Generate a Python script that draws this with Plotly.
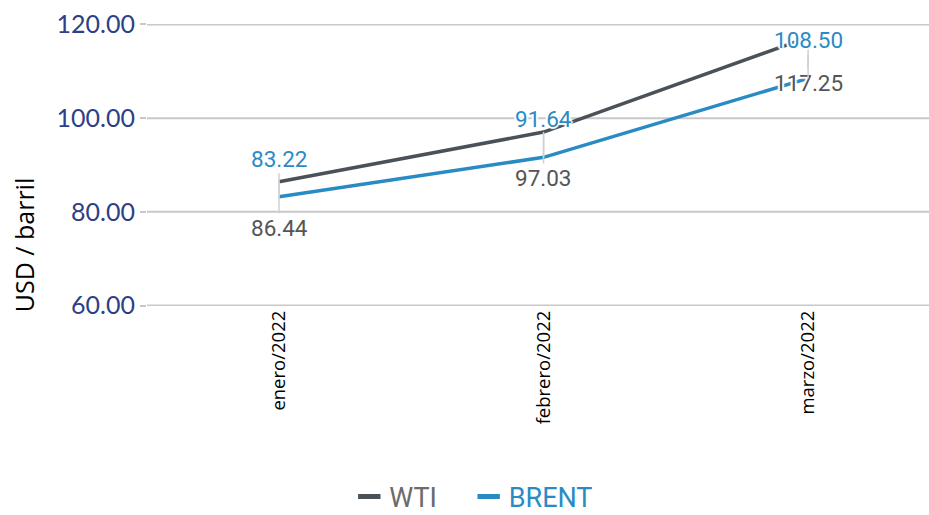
import plotly.graph_objects as go

categories = ["enero/2022", "febrero/2022", "marzo/2022"]
wti = [86.44, 97.03, 117.25]
brent = [83.22, 91.64, 108.50]
y_ticks = [60, 80, 100, 120]

WTI_COLOR = "#4a5159"
BRENT_COLOR = "#2a8bc4"
GRID = "#c8c8c8"
halo = ("white 1px 1px 1px, white -1px -1px 1px, white 1px -1px 1px, white -1px 1px 1px, "
        "white 2px 0px 1px, white -2px 0px 1px, white 0px 2px 1px, white 0px -2px 1px")

fig = go.Figure()
fig.add_trace(go.Scatter(x=categories, y=wti, mode="lines", name="WTI",
                         line=dict(color=WTI_COLOR, width=3.5), showlegend=False))
fig.add_trace(go.Scatter(x=categories, y=brent, mode="lines", name="BRENT",
                         line=dict(color=BRENT_COLOR, width=3.5), showlegend=False))

# legend-only entries
NB = "\u00a0"
fig.add_trace(go.Scatter(x=[None], y=[None], mode="markers",
                         name=f"<span style='color:#6b6b6b'>WTI{NB*4}</span>",
                         marker=dict(symbol="line-ew", size=20, line=dict(color=WTI_COLOR, width=6))))
fig.add_trace(go.Scatter(x=[None], y=[None], mode="markers",
                         name=f"<span style='color:#2a8bc4'>BRENT</span>",
                         marker=dict(symbol="line-ew", size=20, line=dict(color=BRENT_COLOR, width=6))))

# horizontal gridlines (including the ones on the plot edges)
for t in y_ticks:
    fig.add_shape(type="line", xref="paper", yref="y", x0=0, x1=1, y0=t, y1=t,
                  line=dict(color=GRID, width=2), layer="below")

for c, v in zip(categories, wti):
    fig.add_annotation(x=c, y=v, text=f"{v:.2f}", showarrow=True, arrowhead=0,
                       arrowcolor="#d0d0d0", arrowwidth=1.5, ax=0, ay=46, standoff=0,
                       font=dict(family="Roboto", size=22.5, color="#555555", shadow=halo))
for c, v in zip(categories, brent):
    fig.add_annotation(x=c, y=v, text=f"{v:.2f}", showarrow=True, arrowhead=0,
                       arrowcolor="#d0d0d0", arrowwidth=1.5, ax=0, ay=-38, standoff=0,
                       font=dict(family="Roboto", size=22.5, color=BRENT_COLOR, shadow=halo))

# y-axis title
fig.add_annotation(xref="paper", yref="paper", x=(24 - 147) / 782, y=(305.8 - 245) / 282.2,
                   text="USD / barril", showarrow=False, textangle=-90,
                   xanchor="center", yanchor="middle",
                   font=dict(family="Open Sans", size=25, color="#000000"))

fig.update_layout(
    width=929, height=515,
    margin=dict(l=147, r=0, t=23.5, b=209.2, pad=0),
    plot_bgcolor="white", paper_bgcolor="white",
    xaxis=dict(type="category", range=[-0.499, 2.457], showgrid=False, showline=False,
               zeroline=False, tickangle=-90, ticks="", automargin=False,
               tickfont=dict(family="Open Sans", size=18.5, color="#000000")),
    yaxis=dict(range=[59.9, 120.1], tickvals=y_ticks, tickformat=".2f", showgrid=False,
               zeroline=False, showline=False, automargin=False,
               ticks="outside", ticklen=6, tickcolor=GRID, tickwidth=2,
               tickfont=dict(family="Lato", size=25, color="#2e3f87")),
    legend=dict(orientation="h", xref="container", yref="container",
                x=0.51, xanchor="center", y=(515 - 497) / 515, yanchor="middle",
                font=dict(family="Roboto", size=27), itemwidth=30, tracegroupgap=0),
)

fig.write_html("out.html", post_script="document.body.style.margin='0';",
               config={"displayModeBar": False})
